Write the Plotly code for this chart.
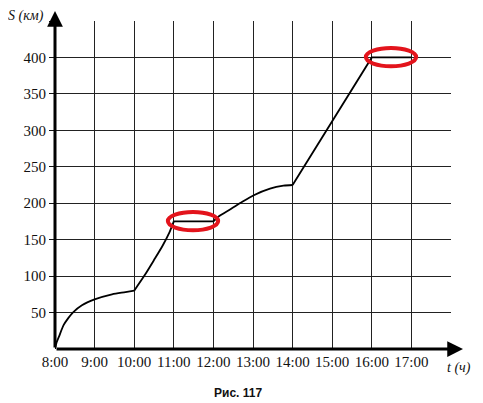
import plotly.graph_objects as go

# ---- data (hours as decimals, distance in km) ----
t_a = [8, 8.04, 8.1, 8.22, 8.33, 8.45, 8.68, 9, 9.44, 9.78, 10]
s_a = [0, 9, 17, 33, 42, 50, 60, 68, 75, 78, 80]
t_b = [10, 10.25, 10.5, 10.72, 10.89, 11]
s_b = [80, 100, 122, 142, 160, 175]
t_c = [11, 12]
s_c = [175, 175]
t_d = [12, 12.14, 12.44, 12.73, 13.02, 13.43, 13.77, 14]
s_d = [175, 182, 192, 202, 211, 220, 224, 225]
t_e = [14, 16, 17]
s_e = [225, 400, 400]

x_tickvals = [8, 9, 10, 11, 12, 13, 14, 15, 16, 17, 18]
x_ticktext = ["8:00", "9:00", "10:00", "11:00", "12:00", "13:00", "14:00",
              "15:00", "16:00", "17:00", ""]
y_tickvals = [50, 100, 150, 200, 250, 300, 350, 400, 450]
y_ticktext = ["50", "100", "150", "200", "250", "300", "350", "400", ""]

# highlighted flat stretches (start, end, level)
highlights = [(11, 12, 175), (16, 17, 400)]

fig = go.Figure()
for tx, sy, shape in [(t_a, s_a, "spline"), (t_b, s_b, "spline"), (t_c, s_c, "linear"),
                      (t_d, s_d, "spline"), (t_e, s_e, "linear")]:
    fig.add_trace(go.Scatter(x=tx, y=sy, mode="lines",
                             line=dict(color="black", width=1.8, shape=shape, smoothing=0.8),
                             showlegend=False, hoverinfo="skip"))

for t0, t1, lvl in highlights:
    fig.add_shape(type="circle", xref="x", yref="y",
                  x0=t0 - 0.15, x1=t1 + 0.12, y0=lvl - 12, y1=lvl + 13,
                  line=dict(color="#e3141c", width=4), fillcolor="rgba(0,0,0,0)")

OFF = 8  # browser body margin
W, H = 483 - OFF, 403 - OFF
L, T = 55 - OFF, 21 - OFF
R = W - (451 - OFF)
B = H - (349 - OFF)
pw, ph = W - L - R, H - T - B

def px_x(px):
    return (px - OFF - L) / pw

def px_y(py):
    return (H - B - (py - OFF)) / ph

# axis arrows
fig.add_annotation(x=px_x(463), y=0, xref="paper", yref="paper", ax=55 - 463, ay=0,
                   axref="pixel", ayref="pixel", text="", showarrow=True,
                   arrowhead=2, arrowsize=1.05, arrowwidth=3, arrowcolor="black")
fig.add_annotation(x=0, y=px_y(11), xref="paper", yref="paper", ax=0, ay=349 - 11,
                   axref="pixel", ayref="pixel", text="", showarrow=True,
                   arrowhead=2, arrowsize=1.05, arrowwidth=3, arrowcolor="black")

serif = "Liberation Serif"
fig.add_annotation(x=px_x(6), y=px_y(16), xref="paper", yref="paper", xanchor="left",
                   yanchor="middle", text="<i>S (км)</i>", showarrow=False,
                   font=dict(family=serif, size=14, color="#111"))
fig.add_annotation(x=px_x(445), y=px_y(368), xref="paper", yref="paper", xanchor="left",
                   yanchor="middle", text="<i>t (ч)</i>", showarrow=False,
                   font=dict(family=serif, size=14, color="#111"))
fig.add_annotation(x=px_x(238), y=px_y(393), xref="paper", yref="paper", xanchor="center",
                   yanchor="middle", text="<b>Рис. 117</b>", showarrow=False,
                   font=dict(family="Liberation Sans", size=12, color="#111"))

fig.update_layout(
    width=W, height=H,
    margin=dict(l=L, r=R, t=T, b=B, pad=0),
    paper_bgcolor="white", plot_bgcolor="white",
    font=dict(family=serif),
    xaxis=dict(range=[8, 18], tickmode="array", tickvals=x_tickvals, ticktext=x_ticktext,
               showgrid=True, gridcolor="#222", gridwidth=1, zeroline=False,
               showline=False, ticks="", ticklabelstandoff=2,
               tickfont=dict(family=serif, size=15, color="#111"), fixedrange=True),
    yaxis=dict(range=[0, 450], tickmode="array", tickvals=y_tickvals, ticktext=y_ticktext,
               showgrid=True, gridcolor="#222", gridwidth=1, zeroline=False,
               showline=False, ticks="outside", ticklen=5, tickcolor="#111",
               tickfont=dict(family=serif, size=15, color="#111"), fixedrange=True),
)

fig.write_html("out.html")
